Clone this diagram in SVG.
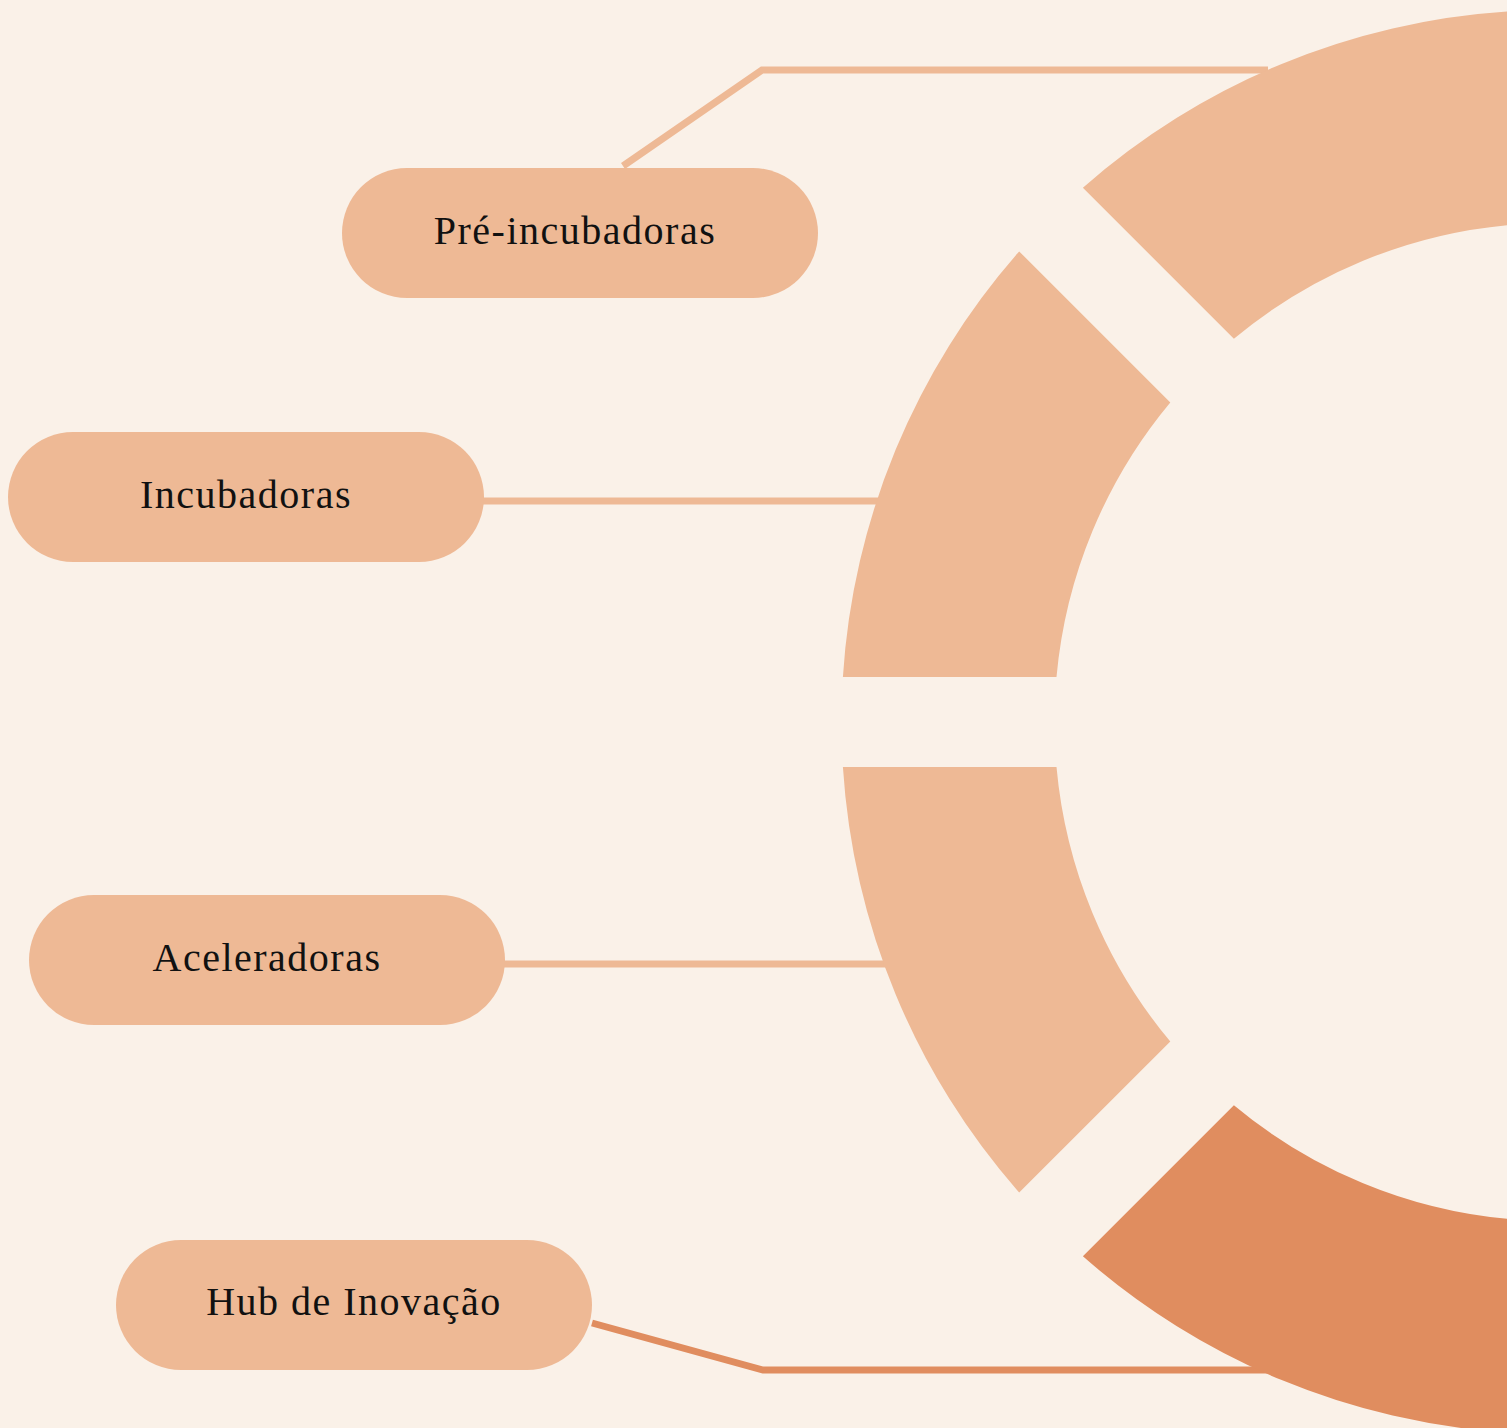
<svg xmlns="http://www.w3.org/2000/svg" width="1507" height="1428" viewBox="0 0 1507 1428">
<style>
.bg{fill:#FAF1E8}
.seg{fill:#EEB995}
.segd{fill:#E08D5F}
.pill{fill:#EEB995}
.con{fill:none;stroke:#EEB995;stroke-width:7}
.cond{fill:none;stroke:#E08D5F;stroke-width:7}
.lbl{font-family:"Liberation Serif","DejaVu Serif",serif;font-size:40px;letter-spacing:1.5px;fill:#111;text-anchor:middle}
</style>
<rect class="bg" x="0" y="0" width="1507" height="1428"/>
<g id="connectors">
<polyline class="con" points="623,166 762,70 1268,70"/>
<line class="con" x1="480" y1="501" x2="900" y2="501"/>
<line class="con" x1="500" y1="964" x2="900" y2="964"/>
<polyline class="cond" points="592,1323 763,1370 1268,1370"/>
</g>
<g id="ring">
<path id="seg-top" class="seg" d="M1082.9 187.7 A712 712 0 0 1 1508.5 11.4 L1508.5 225 A499 499 0 0 0 1233.9 338.8 Z"/>
<path id="seg-upper" class="seg" d="M1019.2 251.4 L1170.3 402.4 A499 499 0 0 0 1056.5 677 L842.9 677 A712 712 0 0 1 1019.2 251.4 Z"/>
<path id="seg-lower" class="seg" d="M842.9 767 L1056.5 767 A499 499 0 0 0 1170.3 1041.6 L1019.2 1192.6 A712 712 0 0 1 842.9 767 Z"/>
<path id="seg-bottom" class="segd" d="M1233.9 1105.2 A499 499 0 0 0 1508.5 1219 L1508.5 1432.6 A712 712 0 0 1 1082.9 1256.3 Z"/>
</g>
<g id="node-pre-incubadoras">
<rect class="pill" x="342" y="168" width="476" height="130" rx="65"/>
<text class="lbl" x="575" y="244">Pré-incubadoras</text>
</g>
<g id="node-incubadoras">
<rect class="pill" x="8" y="432" width="476" height="130" rx="65"/>
<text class="lbl" x="246" y="508">Incubadoras</text>
</g>
<g id="node-aceleradoras">
<rect class="pill" x="29" y="895" width="476" height="130" rx="65"/>
<text class="lbl" x="267" y="971">Aceleradoras</text>
</g>
<g id="node-hub">
<rect class="pill" x="116" y="1240" width="476" height="130" rx="65"/>
<text class="lbl" x="354" y="1315">Hub de Inovação</text>
</g>
</svg>
